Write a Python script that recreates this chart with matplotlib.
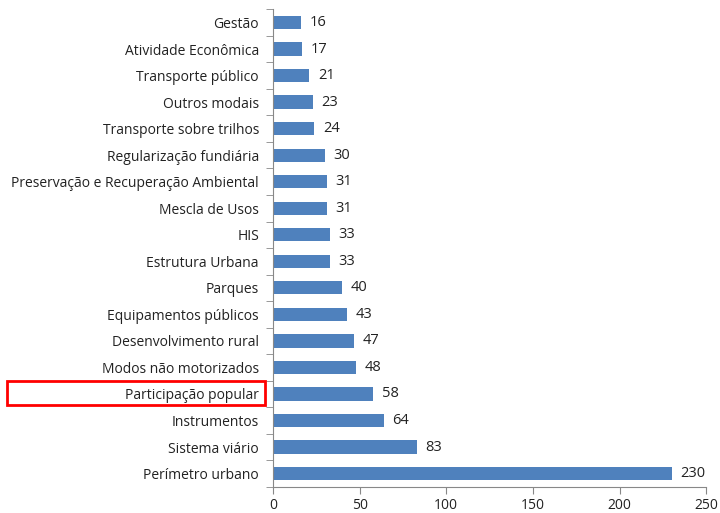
import numpy as np
import matplotlib.pyplot as plt
from matplotlib.patches import Rectangle

categories = ["Gestão", "Atividade Econômica", "Transporte público", "Outros modais",
              "Transporte sobre trilhos", "Regularização fundiária",
              "Preservação e Recuperação Ambiental", "Mescla de Usos", "HIS",
              "Estrutura Urbana", "Parques", "Equipamentos públicos",
              "Desenvolvimento rural", "Modos não motorizados", "Participação popular",
              "Instrumentos", "Sistema viário", "Perímetro urbano"]
values = [16, 17, 21, 23, 24, 30, 31, 31, 33, 33, 40, 43, 47, 48, 58, 64, 83, 230]
xticks = [0, 50, 100, 150, 200, 250]

plt.rcParams['font.family'] = ['Open Sans', 'DejaVu Sans']

fig = plt.figure(figsize=(7.2, 5.13), dpi=100)
ax = fig.add_axes([0.379, 0.051, 0.602, 0.931])

n = len(categories)
y = np.arange(n)[::-1]
ax.barh(y, values, height=0.5, color='#4F81BD')
for yi, v in zip(y, values):
    ax.text(v + 5, yi, str(v), va='center', ha='left', fontsize=10.5, color='#222222')

ax.set_xlim(0, 250)
ax.set_ylim(-0.5, n - 0.5)
ax.set_xticks(xticks)
ax.set_xticklabels([str(t) for t in xticks], fontsize=10, color='#222222')
ax.set_yticks(y)
ax.set_yticklabels(categories, fontsize=10, color='#222222')
ax.tick_params(axis='y', length=0, pad=10)
ax.set_yticks(np.arange(n + 1) - 0.5, minor=True)
ax.tick_params(axis='y', which='minor', length=5, color='#888888', direction='out')
ax.tick_params(axis='x', length=5, color='#888888', direction='out', pad=3)

for s in ['top', 'right']:
    ax.spines[s].set_visible(False)
for s in ['left', 'bottom']:
    ax.spines[s].set_color('#888888')

# highlight box around "Participação popular"
fig.patches.append(Rectangle((7 / 720, 1 - 405 / 513), 258 / 720, 24 / 513,
                             transform=fig.transFigure, fill=False,
                             edgecolor='red', linewidth=2))

fig.savefig('out.png', dpi=100)
